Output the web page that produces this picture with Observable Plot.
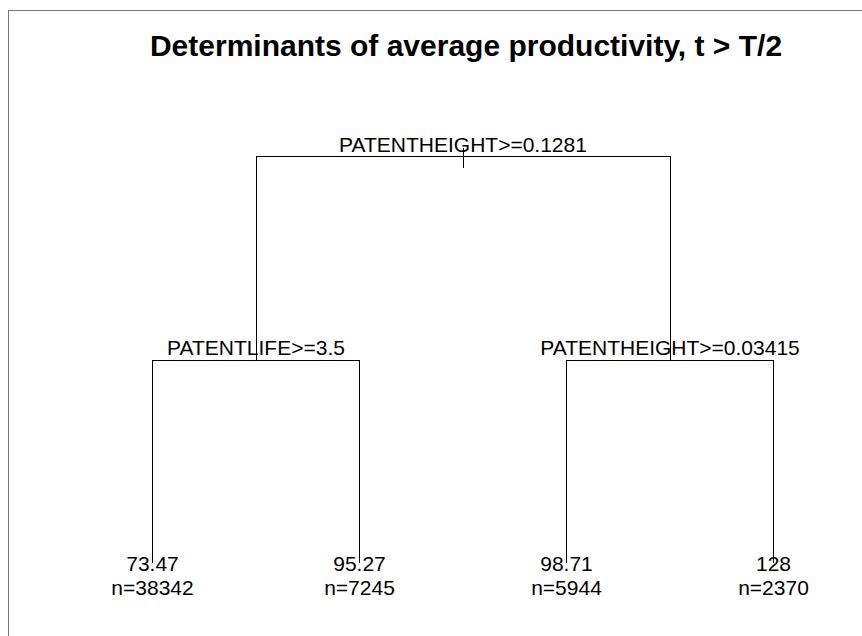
<!DOCTYPE html>
<html>
<head>
<meta charset="utf-8">
<script src="https://cdn.jsdelivr.net/npm/d3@7"></script>
<script src="https://cdn.jsdelivr.net/npm/@observablehq/plot@0.6"></script>
<style>
  html, body { margin: 0; padding: 0; background: #fff; overflow: hidden; width: 862px; height: 636px; }
  #wrap { position: relative; width: 862px; height: 636px; }
  #border { position: absolute; left: 8px; top: 10px; width: 900px; height: 700px;
            border-left: 1px solid #767676; border-top: 1px solid #767676; box-sizing: border-box; }
  #chart { position: absolute; left: 0; top: 0; }
</style>
</head>
<body>
<div id="wrap"><div id="border"></div><div id="chart"></div></div>
<script>
const titleText = "Determinants of average productivity, t > T/2";
const splitLabels = ["PATENTHEIGHT>=0.1281", "PATENTLIFE>=3.5", "PATENTHEIGHT>=0.03415"];
const leafValues = ["73.47", "95.27", "98.71", "128"];
const leafCounts = [38342, 7245, 5944, 2370];

// tree structure (rpart-style layout: leaves evenly spaced, parents at midpoints)
const leaves = leafValues.map((v, i) => ({x: i + 1, depth: 2, value: v, n: "n=" + leafCounts[i]}));
const left = {x: (leaves[0].x + leaves[1].x) / 2, depth: 1, label: splitLabels[1], children: [leaves[0], leaves[1]]};
const right = {x: (leaves[2].x + leaves[3].x) / 2, depth: 1, label: splitLabels[2], children: [leaves[2], leaves[3]]};
const root = {x: (left.x + right.x) / 2, depth: 0, label: splitLabels[0], children: [left, right]};
const internal = [root, left, right];
const horiz = internal.map(p => ({x1: p.children[0].x, x2: p.children[1].x, y: p.depth}));
const vert = internal.flatMap(p => p.children.map(c => ({x: c.x, y1: p.depth, y2: c.depth})));

const font = "'Liberation Sans', Arial, Helvetica, sans-serif";
const line = {stroke: "black", strokeWidth: 1, shapeRendering: "crispEdges"};

const chart = Plot.plot({
  width: 862,
  height: 636,
  marginLeft: 152,
  marginRight: 89,
  marginTop: 156,
  marginBottom: 73,
  x: {domain: [1, 4], axis: null},
  y: {domain: [0, 2], axis: null, reverse: true},
  style: {fontFamily: font, background: "transparent", color: "black"},
  marks: [
    Plot.ruleY(horiz, {x1: "x1", x2: "x2", y: "y", ...line}),
    Plot.ruleX(vert, {x: "x", y1: "y1", y2: "y2", ...line}),
    Plot.ruleX([root], {x: "x", y1: "depth", y2: "depth", insetTop: -8, insetBottom: -12, ...line}),
    Plot.text(internal, {x: "x", y: "depth", text: "label", lineAnchor: "bottom", dy: -5, fontSize: 21, fill: "black"}),
    Plot.text(leaves, {x: "x", y: "depth", text: "value", lineAnchor: "bottom", dy: 7, fontSize: 21, fill: "black"}),
    Plot.text(leaves, {x: "x", y: "depth", text: "n", lineAnchor: "bottom", dy: 31, fontSize: 21, fill: "black"}),
    Plot.text([titleText], {frameAnchor: "top", text: d => d, lineAnchor: "bottom", dx: 3, dy: -101, fontSize: 30, fontWeight: "bold", fill: "black"})
  ]
});
document.getElementById("chart").appendChild(chart);
</script>
</body>
</html>
